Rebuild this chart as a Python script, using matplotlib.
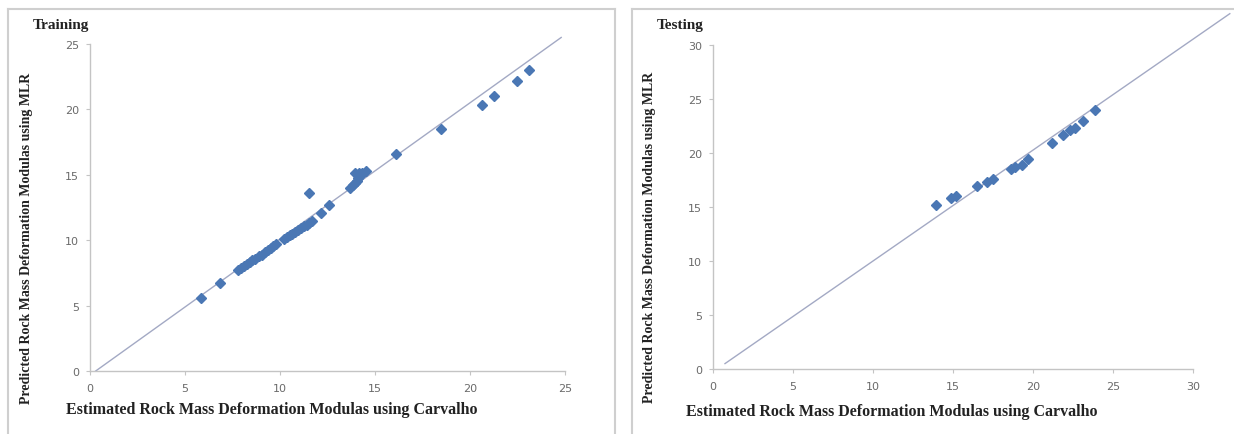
"""
Training / testing scatter of MLR predictions against Carvalho estimates.
"""

import matplotlib
matplotlib.use("Agg")
import matplotlib.pyplot as plt
from matplotlib.lines import Line2D

# ---------------------------------------------------------------------------
# Data
# ---------------------------------------------------------------------------
train_x = [5.85, 6.85,
           7.8, 7.95, 8.1, 8.25, 8.4, 8.55, 8.7, 8.9, 9.05, 9.2, 9.35, 9.5, 9.65, 9.8,
           10.2, 10.35, 10.5, 10.65, 10.8, 10.95, 11.1, 11.25, 11.4, 11.55, 11.7,
           11.5, 12.15, 12.6,
           13.7, 13.85, 13.95, 14.05, 14.1, 14.2, 13.95, 14.15, 14.3, 14.5,
           16.1, 18.45, 20.65, 21.25, 22.45, 23.1]
train_y = [5.6, 6.75,
           7.75, 7.9, 8.0, 8.15, 8.3, 8.45, 8.6, 8.8, 8.9, 9.1, 9.25, 9.4, 9.55, 9.7,
           10.1, 10.25, 10.4, 10.5, 10.65, 10.8, 10.95, 11.1, 11.2, 11.35, 11.5,
           13.6, 12.05, 12.7,
           14.0, 14.2, 14.4, 14.55, 14.75, 14.9, 15.15, 15.1, 15.1, 15.3,
           16.6, 18.5, 20.35, 21.0, 22.2, 23.0]

test_x = [13.95, 14.9, 15.2, 16.5, 17.1, 17.5, 18.6, 18.9, 19.3, 19.7,
          21.2, 21.9, 22.3, 22.6, 23.1, 23.9]
test_y = [15.15, 15.8, 16.0, 16.9, 17.3, 17.6, 18.5, 18.7, 18.9, 19.4,
          20.9, 21.7, 22.1, 22.3, 23.0, 24.0]

# reference lines (end points)
train_line_x = [0.3, 24.8]
train_line_y = [0.0, 25.5]
test_line_x = [0.75, 32.3]
test_line_y = [0.5, 32.9]

train_ticks = [0, 5, 10, 15, 20, 25]
test_ticks = [0, 5, 10, 15, 20, 25, 30]

XLABEL = "Estimated Rock Mass Deformation Modulas using Carvalho"
YLABEL = "Predicted Rock Mass Deformation Modulas using MLR"

# ---------------------------------------------------------------------------
# Styling
# ---------------------------------------------------------------------------
W, H = 1234, 435
MARKER_COLOR = "#4a77b4"
LINE_COLOR = "#a3a9c4"
AXIS_COLOR = "#c4c4c4"
TICK_COLOR = "#6a6a6a"
BORDER_COLOR = "#cfcfcf"
SERIF = ["Liberation Serif", "DejaVu Serif"]


def px(x, y):
    """Pixel coords (top-left origin) to figure fraction."""
    return x / W, 1 - y / H


def style_axes(ax, ticks):
    ax.set_xlim(ticks[0], ticks[-1])
    ax.set_ylim(ticks[0], ticks[-1])
    ax.set_xticks(ticks)
    ax.set_yticks(ticks)
    for side in ("top", "right"):
        ax.spines[side].set_visible(False)
    for side in ("left", "bottom"):
        ax.spines[side].set_color(AXIS_COLOR)
        ax.spines[side].set_linewidth(1.0)
    ax.tick_params(colors=AXIS_COLOR, labelcolor=TICK_COLOR, labelsize=8,
                   length=3, width=0.8, direction="out")
    ax.tick_params(axis="x", pad=6)
    ax.tick_params(axis="y", pad=5)


def axes_rect(x0, x1, y_top, y_bot):
    return [x0 / W, 1 - y_bot / H, (x1 - x0) / W, (y_bot - y_top) / H]


fig = plt.figure(figsize=(W / 100, H / 100), dpi=100)

# panel borders
for xs, ys in [([8, 8], [435, 10]), ([8, 615], [10, 10]), ([615, 615], [10, 435]),
               ([632, 632], [435, 10]), ([632, 1234], [10, 10])]:
    fig.add_artist(Line2D([x / W for x in xs], [1 - y / H for y in ys],
                          color=BORDER_COLOR, lw=1.5, transform=fig.transFigure))

# training panel
ax1 = fig.add_axes(axes_rect(90, 565, 45, 372))
style_axes(ax1, train_ticks)
ax1.plot(train_line_x, train_line_y, color=LINE_COLOR, lw=1.0, clip_on=False, zorder=2)
ax1.plot(train_x, train_y, linestyle="none", marker="D", markersize=5.5,
         color=MARKER_COLOR, zorder=3, clip_on=False)

# testing panel
ax2 = fig.add_axes(axes_rect(713, 1193, 46, 370))
style_axes(ax2, test_ticks)
ax2.plot(test_line_x, test_line_y, color=LINE_COLOR, lw=1.0, clip_on=False, zorder=2)
ax2.plot(test_x, test_y, linestyle="none", marker="D", markersize=5.5,
         color=MARKER_COLOR, zorder=3, clip_on=False)

# titles and axis labels as figure text
fig.text(*px(33, 25), "Training", family=SERIF, weight="bold", fontsize=11,
         ha="left", va="center", color="#222222")
fig.text(*px(657, 25), "Testing", family=SERIF, weight="bold", fontsize=11,
         ha="left", va="center", color="#222222")

for xc, yc in [(272, 410), (892, 412)]:
    fig.text(*px(xc, yc), XLABEL, family=SERIF, weight="bold", fontsize=11.5,
             ha="center", va="center", color="#222222")
for xc, yc in [(27, 238), (650, 237)]:
    fig.text(*px(xc, yc), YLABEL, family=SERIF, weight="bold", fontsize=10,
             ha="center", va="center", rotation=90, color="#222222")

fig.savefig("out.png", dpi=100)
plt.close(fig)
